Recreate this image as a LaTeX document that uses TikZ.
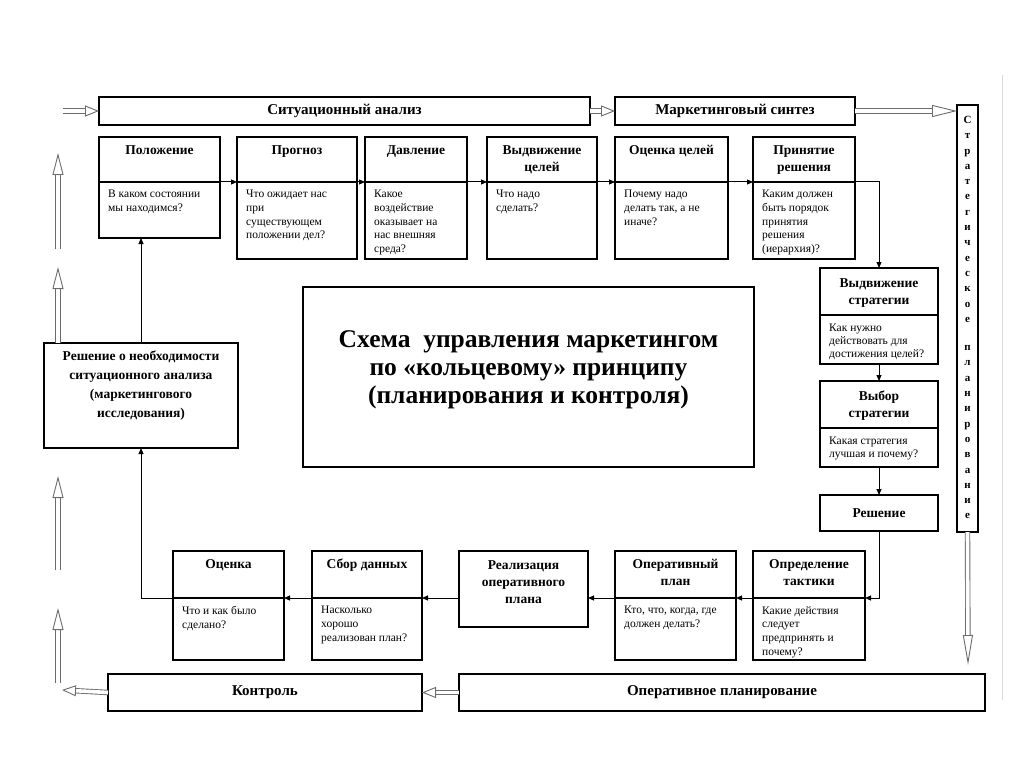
\documentclass[tikz,border=0pt]{standalone}
\usepackage{fontspec}
\setmainfont{Liberation Serif}
\usetikzlibrary{arrows.meta}
\tikzset{
	x=1pt, y=-1pt,
	part/.style={draw, line width=1.5pt, anchor=north west, inner sep=0pt, outer sep=0pt},
	bar/.style={part, font=\bfseries\fontsize{15}{17}\selectfont},
	head/.style={font=\bfseries\fontsize{13.5}{17}\selectfont, align=center, anchor=north, inner sep=0pt, yshift=-8pt},
	ask/.style={font=\fontsize{11.5}{13.7}\selectfont, align=left, anchor=north west, inner sep=0pt, xshift=9pt, yshift=-8pt},
	flow/.style={line width=1pt, -{Triangle[length=6pt, width=5pt]}},
	hollow/.style={draw=gray!85!black, line width=0.9pt, double=white, double distance=3.6pt, -{Triangle[open, length=14pt, width=11pt, line width=0.9pt]}}
}

\begin{document}
\begin{tikzpicture}
	\useasboundingbox[fill=white] (0,0) rectangle (1024,767);

	\node[bar, minimum width=491pt, minimum height=28pt]  (sa)    at (99,97)   {Ситуационный анализ};
	\node[bar, minimum width=240pt, minimum height=28pt]  (ms)    at (615,97)  {Маркетинговый синтез};
	\node[bar, minimum width=21pt,  minimum height=427pt] (strat) at (957,105) {};
	\node[bar, minimum width=314pt, minimum height=37pt]  (kon)   at (108,674) {Контроль};
	\node[bar, minimum width=526pt, minimum height=37pt]  (op)    at (459,674) {Оперативное планирование};
	\node[font=\bfseries\fontsize{11}{15.3}\selectfont, align=center, anchor=north, inner sep=0pt, yshift=-11pt] (strat-name) at (strat.north)
		{С\\т\\р\\а\\т\\е\\г\\и\\ч\\е\\с\\к\\о\\е\\[13pt]п\\л\\а\\н\\и\\р\\о\\в\\а\\н\\и\\е};

	\node[part, minimum width=121pt, minimum height=45pt] (pol)    at (99,137)        {};
	\node[part, minimum width=121pt, minimum height=56pt] (pol-q)  at (pol.south west)  {};
	\node[part, minimum width=120pt, minimum height=45pt] (prog)   at (237,137)       {};
	\node[part, minimum width=120pt, minimum height=77pt] (prog-q) at (prog.south west) {};
	\node[part, minimum width=102pt, minimum height=45pt] (dav)    at (365,137)       {};
	\node[part, minimum width=102pt, minimum height=77pt] (dav-q)  at (dav.south west)  {};
	\node[part, minimum width=110pt, minimum height=45pt] (vyd)    at (487,137)       {};
	\node[part, minimum width=110pt, minimum height=77pt] (vyd-q)  at (vyd.south west)  {};
	\node[part, minimum width=113pt, minimum height=45pt] (ots)    at (615,137)       {};
	\node[part, minimum width=113pt, minimum height=77pt] (ots-q)  at (ots.south west)  {};
	\node[part, minimum width=102pt, minimum height=45pt] (prin)   at (753,137)       {};
	\node[part, minimum width=102pt, minimum height=77pt] (prin-q) at (prin.south west) {};

	\node[head] (pol-name)  at (pol.north)  {Положение};
	\node[head] (prog-name) at (prog.north) {Прогноз};
	\node[head] (dav-name)  at (dav.north)  {Давление};
	\node[head] (vyd-name)  at (vyd.north)  {Выдвижение\\целей};
	\node[head] (ots-name)  at (ots.north)  {Оценка целей};
	\node[head] (prin-name) at (prin.north) {Принятие\\решения};

	\node[ask] (pol-text)  at (pol-q.north west)  {В каком состоянии\\мы находимся?};
	\node[ask] (prog-text) at (prog-q.north west) {Что ожидает нас\\при\\существующем\\положении дел?};
	\node[ask] (dav-text)  at (dav-q.north west)  {Какое\\воздействие\\оказывает на\\нас внешняя\\среда?};
	\node[ask] (vyd-text)  at (vyd-q.north west)  {Что надо\\сделать?};
	\node[ask] (ots-text)  at (ots-q.north west)  {Почему надо\\делать так, а не\\иначе?};
	\node[ask] (prin-text) at (prin-q.north west) {Каким должен\\быть порядок\\принятия\\решения\\(иерархия)?};

	\node[part, minimum width=118pt, minimum height=47pt] (vs)    at (820,268)       {};
	\node[part, minimum width=118pt, minimum height=49pt] (vs-q)  at (vs.south west)  {};
	\node[part, minimum width=118pt, minimum height=47pt] (vyb)   at (820,381)       {};
	\node[part, minimum width=118pt, minimum height=39pt] (vyb-q) at (vyb.south west) {};
	\node[part, minimum width=118pt, minimum height=36pt, font=\bfseries\fontsize{13.5}{17}\selectfont] (resh) at (820,495) {Решение};

	\node[head, yshift=-2pt] (vs-name)  at (vs.north)  {Выдвижение\\стратегии};
	\node[head, yshift=-2pt] (vyb-name) at (vyb.north) {Выбор\\стратегии};
	\node[ask, font=\fontsize{11.5}{13}\selectfont, yshift=-1pt] (vs-text)  at (vs-q.north west)  {Как нужно\\действовать для\\достижения целей?};
	\node[ask, font=\fontsize{11.5}{13}\selectfont, yshift=-1pt] (vyb-text) at (vyb-q.north west) {Какая стратегия\\лучшая и почему?};

	\node[part, minimum width=112pt, minimum height=47pt] (opr)     at (753,551)         {};
	\node[part, minimum width=112pt, minimum height=62pt] (opr-q)   at (opr.south west)   {};
	\node[part, minimum width=121pt, minimum height=47pt] (oplan)   at (615,551)         {};
	\node[part, minimum width=121pt, minimum height=62pt] (oplan-q) at (oplan.south west) {};
	\node[part, minimum width=129pt, minimum height=76pt] (real)    at (459,551)         {};
	\node[part, minimum width=110pt, minimum height=47pt] (sbor)    at (312,551)         {};
	\node[part, minimum width=110pt, minimum height=62pt] (sbor-q)  at (sbor.south west)  {};
	\node[part, minimum width=111pt, minimum height=47pt] (otsn)    at (173,551)         {};
	\node[part, minimum width=111pt, minimum height=62pt] (otsn-q)  at (otsn.south west)  {};

	\node[head] (opr-name)   at (opr.north)   {Определение\\тактики};
	\node[head] (oplan-name) at (oplan.north) {Оперативный\\план};
	\node[head, yshift=-1pt] (real-name)  at (real.north)  {Реализация\\оперативного\\плана};
	\node[head] (sbor-name)  at (sbor.north)  {Сбор данных};
	\node[head] (otsn-name)  at (otsn.north)  {Оценка};

	\node[ask] (opr-text)   at (opr-q.north west)   {Какие действия\\следует\\предпринять и\\почему?};
	\node[ask] (oplan-text) at (oplan-q.north west) {Кто, что, когда, где\\должен делать?};
	\node[ask] (sbor-text)  at (sbor-q.north west)  {Насколько\\хорошо\\реализован план?};
	\node[ask] (otsn-text)  at (otsn-q.north west)  {Что и как было\\сделано?};

	\node[part, minimum width=194pt, minimum height=105pt] (nr) at (44,343) {};
	\node[head, font=\bfseries\fontsize{13.5}{19}\selectfont] (nr-name) at (nr.north)
		{Решение о необходимости\\ситуационного анализа\\(маркетингового\\исследования)};

	\node[part, minimum width=451pt, minimum height=180pt] (cen) at (303,287) {};
	\node[font=\bfseries\fontsize{25.5}{28}\selectfont, align=center, yshift=7pt] (cen-name) at (cen.center)
		{Схема~ управления маркетингом\\по «кольцевому» принципу\\(планирования и контроля)};

	\draw[flow] (pol.south east)  -- (prog.south west);
	\draw[flow] (prog.south east) -- (dav.south west);
	\draw[flow] (dav.south east)  -- (vyd.south west);
	\draw[flow] (vyd.south east)  -- (ots.south west);
	\draw[flow] (ots.south east)  -- (prin.south west);
	\draw[flow] (prin.south east) -| (vs.north);
	\draw[flow] (vs-q.south)      -- (vyb.north);
	\draw[flow] (vyb-q.south)     -- (resh.north);
	\draw[flow] (resh.south)      |- (opr.south east);
	\draw[flow] (opr.south west)  -- (oplan.south east);
	\draw[flow] (oplan.south west) -- (oplan.south west -| real.east);
	\draw[flow] (sbor.south east -| real.west) -- (sbor.south east);
	\draw[flow] (sbor.south west) -- (otsn.south east);
	\draw[flow] (otsn.south west) -| (nr.south);
	\draw[flow] (nr.north)        -- (nr.north |- pol-q.south);

	\coordinate (in-sa)  at (63,111);
	\coordinate (out-kon) at (62,690);
	\coordinate (down-end) at (968,665);
	\coordinate (up1-a) at (58,249); \coordinate (up1-b) at (58,153);
	\coordinate (up2-a) at (58,343); \coordinate (up2-b) at (58,267);
	\coordinate (up3-a) at (58,570); \coordinate (up3-b) at (58,476);
	\coordinate (up4-a) at (58,683); \coordinate (up4-b) at (58,608);

	\draw[hollow] (in-sa)    -- (sa.west);
	\draw[hollow] (sa.east)  -- (ms.west);
	\draw[hollow, -{Triangle[open, length=25pt, width=12pt, line width=0.9pt]}] (ms.east) -- (ms.east -| strat.west);
	\draw[hollow, -{Triangle[open, length=30pt, width=10pt, line width=0.9pt]}] (strat.south) -- (down-end);
	\draw[hollow] (op.west)  -- (kon.east);
	\draw[hollow] (kon.west) -- (out-kon);
	\foreach \i in {1,...,4}
		\draw[hollow, -{Triangle[open, length=22pt, width=11pt, line width=0.9pt]}] (up\i-a) -- (up\i-b);

	\draw[gray!30, line width=1pt] (1002,75) -- (1002,700);
\end{tikzpicture}
\end{document}
